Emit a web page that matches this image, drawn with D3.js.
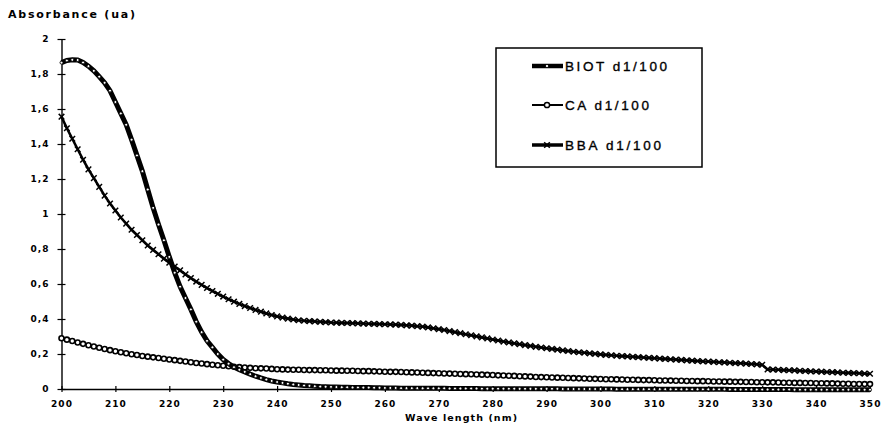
<!DOCTYPE html>
<html>
<head>
<meta charset="utf-8">
<script src="https://cdn.jsdelivr.net/npm/d3@7"></script>
<style>
  html, body { margin: 0; padding: 0; background: #fff; }
  svg { display: block; }
  text { font-family: "Liberation Sans", Arial, sans-serif; fill: #000; }
</style>
</head>
<body>
<svg id="chart" width="884" height="427"></svg>
<script>
// Wavelengths, 1 nm steps from 200 to 350 nm
const wavelengths = d3.range(200, 351);

// Absorbance of each sample (dilution 1/100)
const biot = [
  1.865,1.877,1.881,1.880,1.866,1.845,1.818,1.785,1.750,1.705,
  1.640,1.575,1.510,1.425,1.335,1.245,1.140,1.035,0.940,0.850,
  0.755,0.665,0.585,0.520,0.455,0.385,0.325,0.275,0.238,0.200,
  0.168,0.145,0.125,0.110,0.098,0.085,0.073,0.063,0.054,0.046,
  0.040,0.035,0.030,0.026,0.023,0.020,0.018,0.016,0.014,0.013,
  0.012,0.011,0.010,0.010,0.009,0.009,0.008,0.008,0.007,0.007,
  0.006,0.006,0.006,0.005,0.005,0.005,0.005,0.004,0.004,0.004,
  0.004,0.004,0.003,0.003,0.003,0.003,0.003,0.003,0.002,0.002,
  0.002,0.002,0.002,0.002,0.002,0.001,0.001,0.001,0.001,0.001,
  0.001,0.001,0.001,0.000,0.000,0.000,0.000,0.000,0.000,0.000,
  0.000,0.000,0.000,-0.001,-0.001,-0.001,-0.001,-0.001,-0.001,-0.001,
  -0.001,-0.001,-0.001,-0.002,-0.002,-0.002,-0.002,-0.002,-0.002,-0.002,
  -0.002,-0.002,-0.002,-0.002,-0.003,-0.003,-0.003,-0.003,-0.003,-0.003,
  -0.003,-0.003,-0.003,-0.003,-0.003,-0.003,-0.004,-0.004,-0.004,-0.004,
  -0.004,-0.004,-0.004,-0.004,-0.004,-0.004,-0.004,-0.004,-0.004,-0.004,
  -0.004
];

const ca = [
  0.290,0.282,0.274,0.266,0.258,0.250,0.243,0.236,0.229,0.222,
  0.216,0.210,0.204,0.199,0.194,0.189,0.185,0.181,0.177,0.173,
  0.169,0.165,0.161,0.157,0.153,0.149,0.146,0.142,0.139,0.136,
  0.133,0.130,0.127,0.125,0.123,0.121,0.119,0.118,0.117,0.115,
  0.113,0.112,0.111,0.110,0.110,0.109,0.108,0.108,0.107,0.107,
  0.106,0.105,0.105,0.104,0.104,0.103,0.102,0.102,0.101,0.100,
  0.099,0.098,0.098,0.097,0.096,0.095,0.094,0.093,0.092,0.091,
  0.090,0.089,0.088,0.087,0.086,0.085,0.084,0.083,0.082,0.081,
  0.080,0.078,0.077,0.076,0.075,0.073,0.072,0.071,0.069,0.068,
  0.067,0.066,0.065,0.064,0.063,0.062,0.061,0.060,0.059,0.058,
  0.057,0.056,0.056,0.055,0.054,0.053,0.053,0.052,0.051,0.051,
  0.050,0.049,0.049,0.048,0.047,0.047,0.046,0.046,0.045,0.045,
  0.044,0.043,0.043,0.042,0.042,0.041,0.041,0.040,0.040,0.039,
  0.039,0.038,0.038,0.037,0.036,0.036,0.035,0.035,0.034,0.034,
  0.033,0.033,0.032,0.032,0.031,0.030,0.030,0.029,0.029,0.028,
  0.028
];

const bba = [
  1.556,1.490,1.430,1.370,1.310,1.255,1.205,1.155,1.105,1.060,
  1.020,0.980,0.945,0.910,0.880,0.850,0.820,0.795,0.770,0.745,
  0.722,0.700,0.678,0.655,0.634,0.614,0.595,0.577,0.560,0.544,
  0.528,0.513,0.499,0.486,0.474,0.463,0.452,0.442,0.432,0.423,
  0.415,0.408,0.402,0.397,0.393,0.390,0.388,0.386,0.384,0.382,
  0.380,0.379,0.378,0.377,0.376,0.375,0.374,0.373,0.372,0.371,
  0.370,0.369,0.368,0.366,0.364,0.362,0.359,0.356,0.352,0.347,
  0.342,0.337,0.331,0.325,0.319,0.313,0.307,0.301,0.295,0.289,
  0.283,0.277,0.271,0.266,0.261,0.256,0.251,0.246,0.241,0.237,
  0.233,0.229,0.225,0.221,0.217,0.213,0.210,0.207,0.204,0.201,
  0.198,0.195,0.193,0.190,0.188,0.186,0.184,0.182,0.180,0.178,
  0.176,0.174,0.172,0.170,0.168,0.166,0.164,0.162,0.160,0.158,
  0.157,0.155,0.153,0.152,0.150,0.148,0.147,0.145,0.143,0.141,
  0.138,0.112,0.111,0.110,0.108,0.107,0.106,0.104,0.103,0.101,
  0.100,0.099,0.097,0.096,0.095,0.093,0.092,0.091,0.090,0.088,
  0.087
];

const seriesNames = ["BIOT d1/100", "CA d1/100", "BBA d1/100"];
const xTicks = [200,210,220,230,240,250,260,270,280,290,300,310,320,330,340,350];
const yTicks = [0,0.2,0.4,0.6,0.8,1,1.2,1.4,1.6,1.8,2];

const svg = d3.select("#chart");

const x = d3.scaleLinear().domain([200, 350]).range([61.5, 870]);
const y = d3.scaleLinear().domain([0, 2]).range([389, 39]);

// French decimal comma for the absorbance ticks
const fr = d3.formatLocale({decimal: ",", thousands: " ", grouping: [3], currency: ["", " €"]});
const fmtY = fr.format("~g");

const heavy = "'DejaVu Sans', 'Liberation Sans', Arial, sans-serif";

// ---- Axes ----
const yAxis = svg.append("g")
  .attr("transform", `translate(${x(200)},0)`)
  .call(d3.axisLeft(y).tickValues(yTicks).tickFormat(fmtY).tickSizeOuter(0).tickSizeInner(4).tickPadding(8));
yAxis.selectAll(".tick line").attr("x1", -4).attr("x2", 4);

const xAxis = svg.append("g")
  .attr("transform", `translate(0,${y(0)})`)
  .call(d3.axisBottom(x).tickValues(xTicks).tickFormat(d3.format("d")).tickSizeOuter(0).tickSizeInner(3).tickPadding(9));
xAxis.selectAll(".tick line").attr("y1", -3).attr("y2", 3);

[yAxis, xAxis].forEach(g => {
  g.select(".domain").attr("stroke", "#000").attr("stroke-width", 1.4);
  g.selectAll(".tick line").attr("stroke", "#000").attr("stroke-width", 1.2);
  g.selectAll(".tick text")
    .attr("fill", "#000")
    .style("font-family", heavy)
    .style("font-size", "9px")
    .style("font-weight", "bold")
    .style("letter-spacing", "1px");
});

// ---- Titles ----
svg.append("text")
  .attr("x", 8).attr("y", 18)
  .attr("textLength", 127).attr("lengthAdjust", "spacing")
  .style("font-family", heavy)
  .style("font-size", "11px").style("font-weight", "bold")
  .text("Absorbance (ua)");

svg.append("text")
  .attr("x", 405).attr("y", 421)
  .attr("textLength", 112).attr("lengthAdjust", "spacing")
  .style("font-family", heavy)
  .style("font-size", "9.5px").style("font-weight", "bold")
  .text("Wave length (nm)");

// ---- Series ----
const pts = arr => wavelengths.map((w, i) => [w, arr[i]]);
const line = d3.line().x(d => x(d[0])).y(d => y(d[1]));
const cross = (cx, cy, s) => `M${cx - s},${cy - s}L${cx + s},${cy + s}M${cx - s},${cy + s}L${cx + s},${cy - s}`;

const plot = svg.append("g");

// BBA: medium line with x markers
plot.append("path").datum(pts(bba))
  .attr("d", line).attr("fill", "none").attr("stroke", "#000").attr("stroke-width", 2.6);
plot.append("g").selectAll("path").data(pts(bba)).join("path")
  .attr("d", d => cross(x(d[0]), y(d[1]), 2.8))
  .attr("stroke", "#000").attr("stroke-width", 1.5);

// CA: thin line with open circles
plot.append("path").datum(pts(ca))
  .attr("d", line).attr("fill", "none").attr("stroke", "#000").attr("stroke-width", 2);
plot.append("g").selectAll("circle").data(pts(ca)).join("circle")
  .attr("cx", d => x(d[0])).attr("cy", d => y(d[1])).attr("r", 2.5)
  .attr("fill", "#fff").attr("stroke", "#000").attr("stroke-width", 1.6);

// BIOT: heavy line with small open circles
plot.append("path").datum(pts(biot))
  .attr("d", line).attr("fill", "none").attr("stroke", "#000").attr("stroke-width", 5);
plot.append("g").selectAll("circle").data(pts(biot)).join("circle")
  .attr("cx", d => x(d[0])).attr("cy", d => y(d[1])).attr("r", 1.5)
  .attr("fill", "#fff").attr("stroke", "#000").attr("stroke-width", 0.9);

// ---- Legend ----
const legend = svg.append("g");
legend.append("rect")
  .attr("x", 496).attr("y", 48).attr("width", 206).attr("height", 119)
  .attr("fill", "#fff").attr("stroke", "#000").attr("stroke-width", 1.5);

const legendRows = [
  {name: seriesNames[0], yy: 66, width: 4.5, marker: "biot", len: 102},
  {name: seriesNames[1], yy: 105, width: 2, marker: "ca", len: 84},
  {name: seriesNames[2], yy: 145, width: 3.5, marker: "bba", len: 96}
];
legendRows.forEach(r => {
  legend.append("line")
    .attr("x1", 532).attr("x2", 563).attr("y1", r.yy).attr("y2", r.yy)
    .attr("stroke", "#000").attr("stroke-width", r.width);
  if (r.marker === "biot") {
    legend.append("circle").attr("cx", 547).attr("cy", r.yy).attr("r", 1.6)
      .attr("fill", "#fff").attr("stroke", "#000").attr("stroke-width", 0.9);
  } else if (r.marker === "ca") {
    legend.append("circle").attr("cx", 547).attr("cy", r.yy).attr("r", 2.6)
      .attr("fill", "#fff").attr("stroke", "#000").attr("stroke-width", 1.5);
  } else {
    legend.append("path").attr("d", cross(547, r.yy, 2.8))
      .attr("stroke", "#000").attr("stroke-width", 1.5);
  }
  legend.append("text")
    .attr("x", 565).attr("y", r.yy + 5)
    .attr("textLength", r.len).attr("lengthAdjust", "spacing")
    .style("font-size", "13.5px")
    .style("stroke", "#000").style("stroke-width", 0.35)
    .text(r.name);
});
</script>
</body>
</html>
